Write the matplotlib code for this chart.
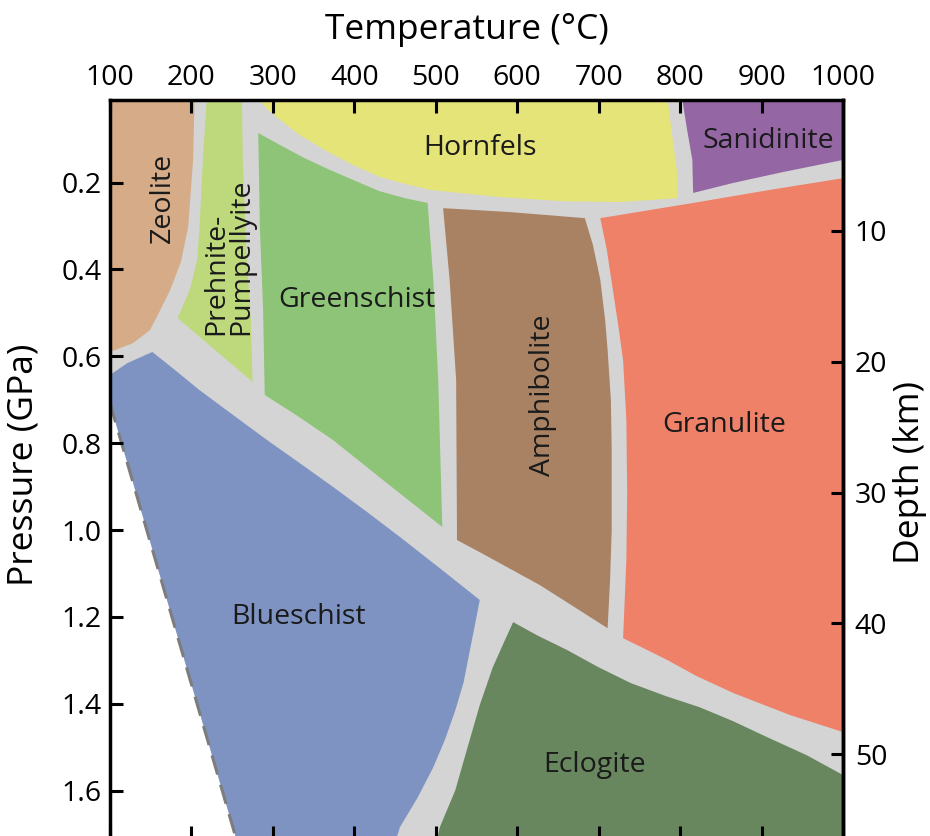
import matplotlib
matplotlib.use("Agg")
import matplotlib.pyplot as plt

plt.rcParams["font.family"] = ["Open Sans", "DejaVu Sans"]
plt.rcParams.update({
    "xtick.direction": "in", "ytick.direction": "in",
    "xtick.top": True, "xtick.bottom": True,
    "ytick.left": True, "ytick.right": False,
    "xtick.major.size": 9, "ytick.major.size": 9,
    "xtick.major.width": 2.2, "ytick.major.width": 2.2,
    "xtick.labelsize": 20.5, "ytick.labelsize": 20.5,
    "xtick.color": "black", "ytick.color": "black",
    "axes.linewidth": 2.5,
})

# Facies fields in temperature (°C) / pressure (GPa) space
zeolite_T = [100, 204, 202, 196, 187, 174, 160, 149, 128, 100]
zeolite_P = [0.0, 0.0, 0.148, 0.302, 0.383, 0.447, 0.500, 0.540, 0.570, 0.590]

prehnite_T = [219, 262, 263, 268, 273, 275, 183, 198, 207, 210, 214]
prehnite_P = [0.0, 0.0, 0.148, 0.378, 0.517, 0.659, 0.512, 0.447, 0.378, 0.302, 0.148]

hornfels_T = [278, 784, 791, 796, 797, 726, 656, 575, 493, 462, 431, 401, 370, 333, 309, 294]
hornfels_P = [0.0, 0.0, 0.102, 0.171, 0.236, 0.245, 0.243, 0.233, 0.217, 0.203, 0.187,
              0.162, 0.132, 0.091, 0.056, 0.033]

sanidinite_T = [802, 1000, 1000, 926, 865, 816, 815, 808]
sanidinite_P = [0.0, 0.0, 0.148, 0.176, 0.201, 0.224, 0.148, 0.072]

greenschist_T = [282, 309, 339, 370, 401, 431, 462, 490, 497, 503, 508, 440, 374, 330,
                 290, 288, 284]
greenschist_P = [0.086, 0.114, 0.144, 0.171, 0.196, 0.220, 0.236, 0.247, 0.424, 0.655,
                 0.993, 0.892, 0.793, 0.737, 0.689, 0.494, 0.302]

amphibolite_T = [509, 591, 683, 693, 702, 708, 711, 715, 716, 716, 714, 711, 628, 554,
                 526, 526, 525, 517]
amphibolite_P = [0.259, 0.268, 0.282, 0.344, 0.424, 0.517, 0.586, 0.701, 0.816, 1.0,
                 1.115, 1.226, 1.127, 1.051, 1.023, 1.0, 0.655, 0.424]

granulite_T = [702, 816, 910, 1000, 1000, 935, 865, 820, 784, 755, 730, 734, 735, 734,
               730, 724, 718, 710]
granulite_P = [0.282, 0.247, 0.217, 0.190, 1.465, 1.426, 1.375, 1.336, 1.299, 1.272,
               1.249, 1.069, 0.915, 0.747, 0.609, 0.528, 0.454, 0.355]

blueschist_T = [100, 121, 152, 180, 210, 251, 293, 333, 374, 416, 456, 505, 554, 548,
                542, 534, 524, 511, 497, 478, 456, 445, 261, 100]
blueschist_P = [0.643, 0.616, 0.590, 0.632, 0.678, 0.735, 0.793, 0.846, 0.901, 0.959,
                1.016, 1.088, 1.161, 1.219, 1.276, 1.352, 1.415, 1.484, 1.546, 1.615,
                1.684, 1.75, 1.75, 0.708]

eclogite_T = [595, 625, 661, 700, 739, 782, 824, 865, 907, 955, 1000, 1000, 497, 505,
              524, 538, 554, 570, 585]
eclogite_P = [1.212, 1.243, 1.276, 1.316, 1.352, 1.382, 1.408, 1.440, 1.477, 1.518,
              1.564, 1.75, 1.75, 1.684, 1.599, 1.507, 1.403, 1.316, 1.253]

# Limit of attainable conditions (dashed)
limit_T = [100, 261]
limit_P = [0.708, 1.75]

facies_names = ["Zeolite", "Prehnite-\nPumpellyite", "Hornfels", "Sanidinite",
                "Greenschist", "Amphibolite", "Granulite", "Blueschist", "Eclogite"]
facies_colors = ["#d5ac87", "#bdd97c", "#e4e479", "#9467a4", "#8dc477",
                 "#a98264", "#ef8169", "#7f93c3", "#68875f"]
facies_T = [zeolite_T, prehnite_T, hornfels_T, sanidinite_T, greenschist_T,
            amphibolite_T, granulite_T, blueschist_T, eclogite_T]
facies_P = [zeolite_P, prehnite_P, hornfels_P, sanidinite_P, greenschist_P,
            amphibolite_P, granulite_P, blueschist_P, eclogite_P]

label_T = [165, 246, 554, 908, 403, 632, 854, 331, 695]
label_P = [0.235, 0.37, 0.12, 0.104, 0.47, 0.689, 0.758, 1.20, 1.541]
label_rot = [90, 90, 0, 0, 0, 90, 0, 0, 0]

temp_ticks = list(range(100, 1001, 100))
pressure_ticks = [0.2, 0.4, 0.6, 0.8, 1.0, 1.2, 1.4, 1.6]
pressure_labels = ["0.2", "0.4", "0.6", "0.8", "1.0", "1.2", "1.4", "1.6"]
depth_ticks = [10, 20, 30, 40, 50]

P0, KM_PER_GPA = 0.01, 33.2

W, H = 930, 836
AX_L, AX_B, AX_W, AX_H = 110, 838, 733, 738   # pixel frame of the plot area
rect = [AX_L / W, 1 - AX_B / H, AX_W / W, AX_H / H]
fig = plt.figure(figsize=(W / 100, H / 100), dpi=100)
fig.patch.set_facecolor("white")

# lower axes: the coloured fields on a grey background
fld = fig.add_axes(rect)
fld.set_facecolor("#d4d4d4")
for s in fld.spines.values():
    s.set_visible(False)
fld.fill(limit_T + [100], limit_P + [1.75], color="white", lw=0)
for T, P, c in zip(facies_T, facies_P, facies_colors):
    fld.fill(T, P, color=c, lw=0)
fld.plot(limit_T, limit_P, color="#7d7d7d", lw=2.2, ls=(0, (6.5, 3.5)))
fld.set_xlim(100, 1000)
fld.set_ylim(1.709, P0)
fld.set_xticks([])
fld.set_yticks([])

# upper axes: frame, ticks, labels
ax = fig.add_axes(rect)
ax.patch.set_visible(False)
ax.set_xlim(100, 1000)
ax.set_ylim(1.709, P0)

for name, t, p, r in zip(facies_names, label_T, label_P, label_rot):
    ax.text(t, p, name, ha="center", va="center", rotation=r, fontsize=20.5,
            color="#1a1a1a", linespacing=0.85, multialignment="left")

ax.set_xticks(temp_ticks)
ax.set_yticks(pressure_ticks, pressure_labels)
ax.tick_params(axis="x", which="major", direction="in", top=True, bottom=True,
               labeltop=True, labelbottom=False, pad=5.5)
ax.tick_params(axis="y", which="major", direction="in", left=True, right=False,
               labelleft=True, labelright=False, pad=6)

ax.set_xlabel("Temperature (°C)", fontsize=25.5)
ax.xaxis.set_label_position("top")
ax.xaxis.set_label_coords((467 - AX_L) / AX_W, (AX_B - 30) / AX_H)
ax.xaxis.label.set_verticalalignment("center")

ax.set_ylabel("Pressure (GPa)", fontsize=25.5)
ax.yaxis.set_label_coords((24 - AX_L) / AX_W, (AX_B - 465) / AX_H)
ax.yaxis.label.set_verticalalignment("center")

sec = ax.secondary_yaxis(
    "right",
    functions=(lambda p: (p - P0) * KM_PER_GPA, lambda d: d / KM_PER_GPA + P0),
)
sec.set_yticks(depth_ticks)
sec.tick_params(direction="in", length=9, width=2.2, labelsize=20.5, pad=8.5)
sec.set_ylabel("Depth (km)", fontsize=25.5)
sec.yaxis.set_label_coords((910 - AX_L) / AX_W, (AX_B - 472) / AX_H,
                           transform=ax.transAxes)
sec.yaxis.label.set_verticalalignment("center")

fig.savefig("out.png", dpi=100, facecolor="white")
